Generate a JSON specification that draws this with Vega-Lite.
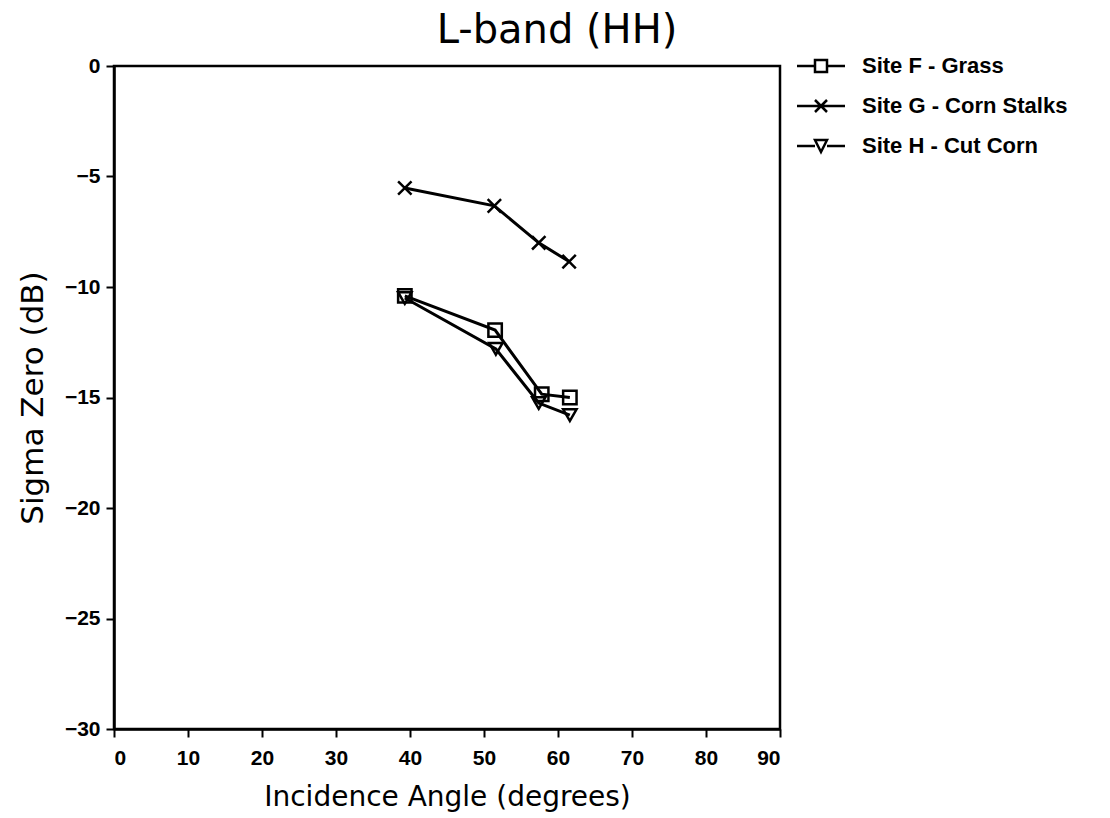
{
  "$schema": "https://vega.github.io/schema/vega-lite/v6.json",
  "autosize": {"type": "none"},
  "padding": {"left": 114, "top": 66, "right": 330, "bottom": 89},
  "width": 666,
  "height": 663,
  "background": "white",
  "config": {
    "view": {"stroke": "black", "strokeWidth": 2.5},
    "axis": {
      "domainColor": "black", "domainWidth": 2.5,
      "tickColor": "black", "tickWidth": 2, "tickSize": 8,
      "grid": false,
      "labelFont": "Liberation Sans", "labelFontSize": 21, "labelFontWeight": "bold", "labelColor": "black",
      "titleFont": "DejaVu Sans", "titleFontSize": 28, "titleFontWeight": "normal", "titleColor": "black"
    }
  },
  "title": {
    "text": "L-band (HH)",
    "font": "DejaVu Sans", "fontSize": 40, "fontWeight": "normal", "color": "black",
    "anchor": "middle", "dx": 110, "offset": 4
  },
  "data": {
    "values": [
      {"site": "Site F - Grass", "angle": 39.3, "sigma": -10.4},
      {"site": "Site F - Grass", "angle": 51.5, "sigma": -11.95},
      {"site": "Site F - Grass", "angle": 57.8, "sigma": -14.85},
      {"site": "Site F - Grass", "angle": 61.6, "sigma": -15.0},
      {"site": "Site G - Corn Stalks", "angle": 39.3, "sigma": -5.52},
      {"site": "Site G - Corn Stalks", "angle": 51.4, "sigma": -6.33},
      {"site": "Site G - Corn Stalks", "angle": 57.4, "sigma": -8.0},
      {"site": "Site G - Corn Stalks", "angle": 61.5, "sigma": -8.85},
      {"site": "Site H - Cut Corn", "angle": 39.3, "sigma": -10.5},
      {"site": "Site H - Cut Corn", "angle": 51.6, "sigma": -12.8},
      {"site": "Site H - Cut Corn", "angle": 57.4, "sigma": -15.25},
      {"site": "Site H - Cut Corn", "angle": 61.6, "sigma": -15.8}
    ]
  },
  "encoding": {
    "x": {
      "field": "angle", "type": "quantitative",
      "scale": {"domain": [0, 90], "nice": false, "zero": false},
      "axis": {"values": [0, 10, 20, 30, 40, 50, 60, 70, 80, 90], "title": "Incidence Angle (degrees)", "labelPadding": 10, "titlePadding": 15}
    },
    "y": {
      "field": "sigma", "type": "quantitative",
      "scale": {"domain": [-30, 0], "nice": false},
      "axis": {"values": [0, -5, -10, -15, -20, -25, -30], "title": "Sigma Zero (dB)", "labelPadding": 6, "titlePadding": 15, "titleFontSize": 31}
    }
  },
  "layer": [
    {
      "mark": {"type": "line", "stroke": "black", "strokeWidth": 3},
      "encoding": {"detail": {"field": "site"}}
    },
    {
      "mark": {"type": "point", "filled": false, "stroke": "black", "strokeWidth": 2.5, "size": 180, "opacity": 1},
      "encoding": {
        "shape": {
          "field": "site", "type": "nominal",
          "scale": {
            "domain": ["Site F - Grass", "Site G - Corn Stalks", "Site H - Cut Corn"],
            "range": ["square", "M-1,-1L1,1M-1,1L1,-1", "triangle-down"]
          },
          "legend": null
        }
      }
    },
    {
      "transform": [{"filter": "false"}],
      "mark": {"type": "point", "filled": false, "stroke": "black", "strokeWidth": 2.5, "size": 144, "opacity": 1},
      "encoding": {
        "shape": {
          "field": "site", "type": "nominal",
          "scale": {
            "domain": ["Site F - Grass", "Site G - Corn Stalks", "Site H - Cut Corn"],
            "range": ["M-4,0H-1M1,0H4M-1,-1H1V1H-1Z", "M-4,0H4M-1,-1L1,1M-1,1L1,-1", "M-4,0H-1M1,0H4M-1,-1H1L0,1Z"]
          },
          "legend": {
            "orient": "none", "legendX": 696, "legendY": -11, "title": null,
            "labelFont": "Liberation Sans", "labelFontSize": 22, "labelFontWeight": "bold", "labelColor": "black",
            "labelLimit": 400,
            "rowPadding": 18, "labelOffset": 30,
            "symbolSize": 144, "symbolStrokeWidth": 2.5, "symbolStrokeColor": "black"
          }
        }
      }
    }
  ],
  "resolve": {"scale": {"shape": "independent"}}
}
